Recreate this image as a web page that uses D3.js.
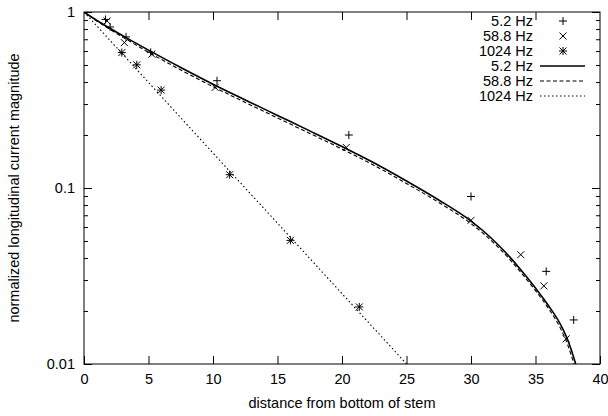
<!DOCTYPE html>
<html>
<head>
<meta charset="utf-8">
<script src="https://cdn.jsdelivr.net/npm/d3@7"></script>
<style>
  body { margin: 0; background: #fff; }
  svg { display: block; font-family: "Liberation Sans", Arial, sans-serif; }
</style>
</head>
<body>
<svg id="chart" width="608" height="416"></svg>
<script>
// measured points
const dist52 = [1.67, 2.02, 3.26, 5.17, 10.31, 20.53, 30.0, 35.83, 37.96]
const mag52 = [0.907, 0.822, 0.722, 0.59, 0.407, 0.2, 0.0895, 0.0336, 0.0178]
const dist588 = [1.79, 3.13, 5.26, 10.17, 20.33, 30.0, 33.86, 35.65, 37.38]
const mag588 = [0.889, 0.67, 0.576, 0.373, 0.17, 0.0655, 0.0418, 0.0278, 0.0139]
const dist1024 = [2.93, 4.09, 5.98, 11.29, 16.0, 21.34]
const mag1024 = [0.588, 0.501, 0.36, 0.119, 0.0504, 0.0211]

// model curves
const curveDist = [0, 1, 2, 3.5, 5, 7.5, 10, 12.5, 15, 17.5, 20, 22.5, 25, 27.5, 30, 31, 32, 33, 34, 35, 36, 37, 37.5, 38, 38.2]
const curve52 = [1, 0.895, 0.808, 0.699, 0.607, 0.484, 0.389, 0.3166, 0.2585, 0.2111, 0.1719, 0.1387, 0.1096, 0.0855, 0.0649, 0.0566, 0.0484, 0.0406, 0.0333, 0.027, 0.0215, 0.01644, 0.01369, 0.01067, 0.00949]
const curve588 = [1, 0.889, 0.7975, 0.6854, 0.591, 0.4685, 0.3766, 0.3065, 0.2502, 0.2043, 0.1664, 0.1343, 0.1061, 0.0828, 0.0628, 0.0548, 0.0469, 0.0393, 0.0322, 0.0261, 0.0207, 0.0156, 0.01283, 0.00986, 0.00873]
const curve1024Dist = [0, 5, 10, 15, 20, 25, 26]
const curve1024 = [1, 0.398, 0.158, 0.0631, 0.0251, 0.01, 0.0083]

const xTicks = [0, 5, 10, 15, 20, 25, 30, 35, 40]
const yTicks = [0.01, 0.1, 1]
const legendLabels = ['5.2 Hz', '58.8 Hz', '1024 Hz', '5.2 Hz', '58.8 Hz', '1024 Hz']

const plotL = 84, plotR = 600, plotT = 12, plotB = 364
const fontSize = 14.5

const svg = d3.select('#chart')
const x = d3.scaleLinear().domain([0, 40]).range([plotL, plotR])
const y = d3.scaleLog().domain([0.01, 1]).range([plotB, plotT])

svg.append('defs').append('clipPath').attr('id', 'plot')
	.append('rect').attr('x', plotL).attr('y', plotT).attr('width', plotR - plotL).attr('height', plotB - plotT)

// minor log ticks
const minor = []
for (const base of [0.01, 0.1]) for (let k = 2; k <= 9; k++) minor.push(base * k)

const styleAxis = g => {
	g.select('.domain').remove()
	g.selectAll('line').attr('stroke', '#000')
	g.selectAll('text').attr('fill', '#000').attr('font-size', fontSize)
}

svg.append('g').attr('transform', `translate(0,${plotB})`)
	.call(d3.axisBottom(x).tickValues(xTicks).tickSize(-8).tickPadding(10).tickFormat(d3.format('d')))
	.call(styleAxis)
svg.append('g').attr('transform', `translate(0,${plotT})`)
	.call(d3.axisTop(x).tickValues(xTicks.slice(1, -1)).tickSize(-8).tickFormat(''))
	.call(styleAxis)
svg.append('g').attr('transform', `translate(${plotL},0)`)
	.call(d3.axisLeft(y).tickValues(yTicks).tickSize(-8).tickPadding(9).tickFormat(d => String(d)))
	.call(styleAxis)
svg.append('g').attr('transform', `translate(${plotL},0)`)
	.call(d3.axisLeft(y).tickValues(minor).tickSize(-4).tickFormat(''))
	.call(styleAxis)
svg.append('g').attr('transform', `translate(${plotR},0)`)
	.call(d3.axisRight(y).tickValues(yTicks).tickSize(-8).tickFormat(''))
	.call(styleAxis)
svg.append('g').attr('transform', `translate(${plotR},0)`)
	.call(d3.axisRight(y).tickValues(minor).tickSize(-4).tickFormat(''))
	.call(styleAxis)

svg.append('rect').attr('x', plotL).attr('y', plotT).attr('width', plotR - plotL).attr('height', plotB - plotT)
	.attr('fill', 'none').attr('stroke', '#000').attr('stroke-width', 1)

// axis titles
svg.append('text').attr('x', (plotL + plotR) / 2).attr('y', 408).attr('text-anchor', 'middle')
	.attr('font-size', fontSize).text('distance from bottom of stem')
svg.append('text').attr('transform', `translate(19,${(plotT + plotB) / 2}) rotate(-90)`)
	.attr('text-anchor', 'middle').attr('font-size', fontSize).text('normalized longitudinal current magnitude')

// curves
const lineStyles = [
	{w: 1.6, dash: null},
	{w: 1.1, dash: '4,2.5'},
	{w: 1.1, dash: '1.5,2.5'},
]
const line = d3.line().x(d => x(d[0])).y(d => y(d[1])).curve(d3.curveMonotoneX)
const curves = [
	d3.zip(curveDist, curve52),
	d3.zip(curveDist, curve588),
	d3.zip(curve1024Dist, curve1024),
]
const plot = svg.append('g').attr('clip-path', 'url(#plot)')
curves.forEach((c, i) => {
	plot.append('path').attr('d', line(c))
		.attr('fill', 'none').attr('stroke', '#000')
		.attr('stroke-width', lineStyles[i].w).attr('stroke-dasharray', lineStyles[i].dash)
})

// markers
const plusPath = 'M-4,0H4M0,-4V4'
const crossPath = 'M-3.5,-3.5L3.5,3.5M-3.5,3.5L3.5,-3.5'
const starPath = plusPath + crossPath
const markerSets = [
	{d: d3.zip(dist52, mag52), p: plusPath},
	{d: d3.zip(dist588, mag588), p: crossPath},
	{d: d3.zip(dist1024, mag1024), p: starPath},
]
markerSets.forEach(s => {
	plot.selectAll(null).data(s.d).join('path')
		.attr('transform', d => `translate(${x(d[0])},${y(d[1])})`)
		.attr('d', s.p).attr('fill', 'none').attr('stroke', '#000').attr('stroke-width', 1)
})

// legend
const legend = svg.append('g')
legendLabels.forEach((label, i) => {
	const ly = 21 + i * 15
	legend.append('text').attr('x', 533).attr('y', ly).attr('dy', '0.35em')
		.attr('text-anchor', 'end').attr('font-size', fontSize).text(label)
	if (i < 3) {
		legend.append('path').attr('transform', `translate(563,${ly})`).attr('d', markerSets[i].p)
			.attr('fill', 'none').attr('stroke', '#000').attr('stroke-width', 1)
	} else {
		const st = lineStyles[i - 3]
		legend.append('line').attr('x1', 540).attr('x2', 585).attr('y1', ly).attr('y2', ly)
			.attr('stroke', '#000').attr('stroke-width', st.w).attr('stroke-dasharray', st.dash)
	}
})
</script>
</body>
</html>
